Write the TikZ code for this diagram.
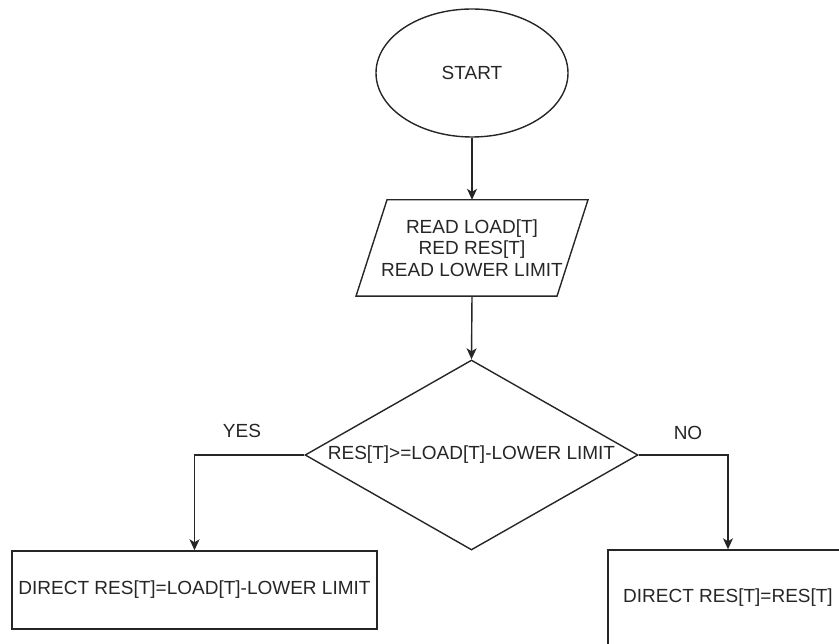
\documentclass[tikz,border=0pt]{standalone}
\usepackage{fontspec}
\setmainfont{Liberation Sans}
\usetikzlibrary{shapes.geometric,arrows.meta}

\tikzset{
  flowline/.style={line width=1.4pt, draw=black!85},
  flowarrow/.style={flowline, -{Stealth[length=11pt,width=10pt,inset=3pt]}},
  flowtext/.style={font=\fontsize{19}{21.5}\selectfont, text=black!85, align=center},
  terminal/.style={flowtext, ellipse, flowline, minimum width=192pt, minimum height=128pt, inner sep=0pt},
  iobox/.style={flowtext, minimum width=170pt, minimum height=96pt, inner sep=0pt},
  decision/.style={flowtext, diamond, flowline, aspect=1.75, minimum width=333pt, minimum height=190pt, inner sep=0pt},
  process/.style={flowtext, rectangle, flowline, inner sep=0pt},
  branchlabel/.style={flowtext}
}

\begin{document}
\begin{tikzpicture}[x=1pt, y=-1pt]
  \useasboundingbox (0,0) rectangle (839,644);
  \clip (0,0) rectangle (839,644);

  % start terminal
  \node[terminal] (start) at (472,73) {START};

  % input block: parallelogram drawn around a plain node
  \node[iobox] (read) at (472,248) {READ LOAD[T]\\RED RES[T]\\READ LOWER LIMIT};
  \draw[flowline] ([xshift=-85pt]read.north) -- ([xshift=116pt]read.north)
    -- ([xshift=85pt]read.south) -- ([xshift=-116pt]read.south) -- cycle;

  % decision
  \node[decision] (dec) at (471.5,455) {RES[T]>=LOAD[T]-LOWER LIMIT};

  % the two outcomes
  \node[process, minimum width=365pt, minimum height=78pt] (yes) at (194.5,590)
    {DIRECT RES[T]=LOAD[T]-LOWER LIMIT};
  \node[process, minimum width=240pt, minimum height=96pt] (no) at (728,598)
    {DIRECT RES[T]=RES[T]};

  % branch labels
  \node[branchlabel] (yeslbl) at (242,431) {YES};
  \node[branchlabel] (nolbl) at (688,433) {NO};

  % connectors
  \draw[flowarrow] (start) -- (read.north);
  \draw[flowarrow] (read.south) -- (dec.north);
  \draw[flowarrow] (dec.west) -| (yes.north);
  \draw[flowarrow] (dec.east) -| (no.north);
\end{tikzpicture}
\end{document}
